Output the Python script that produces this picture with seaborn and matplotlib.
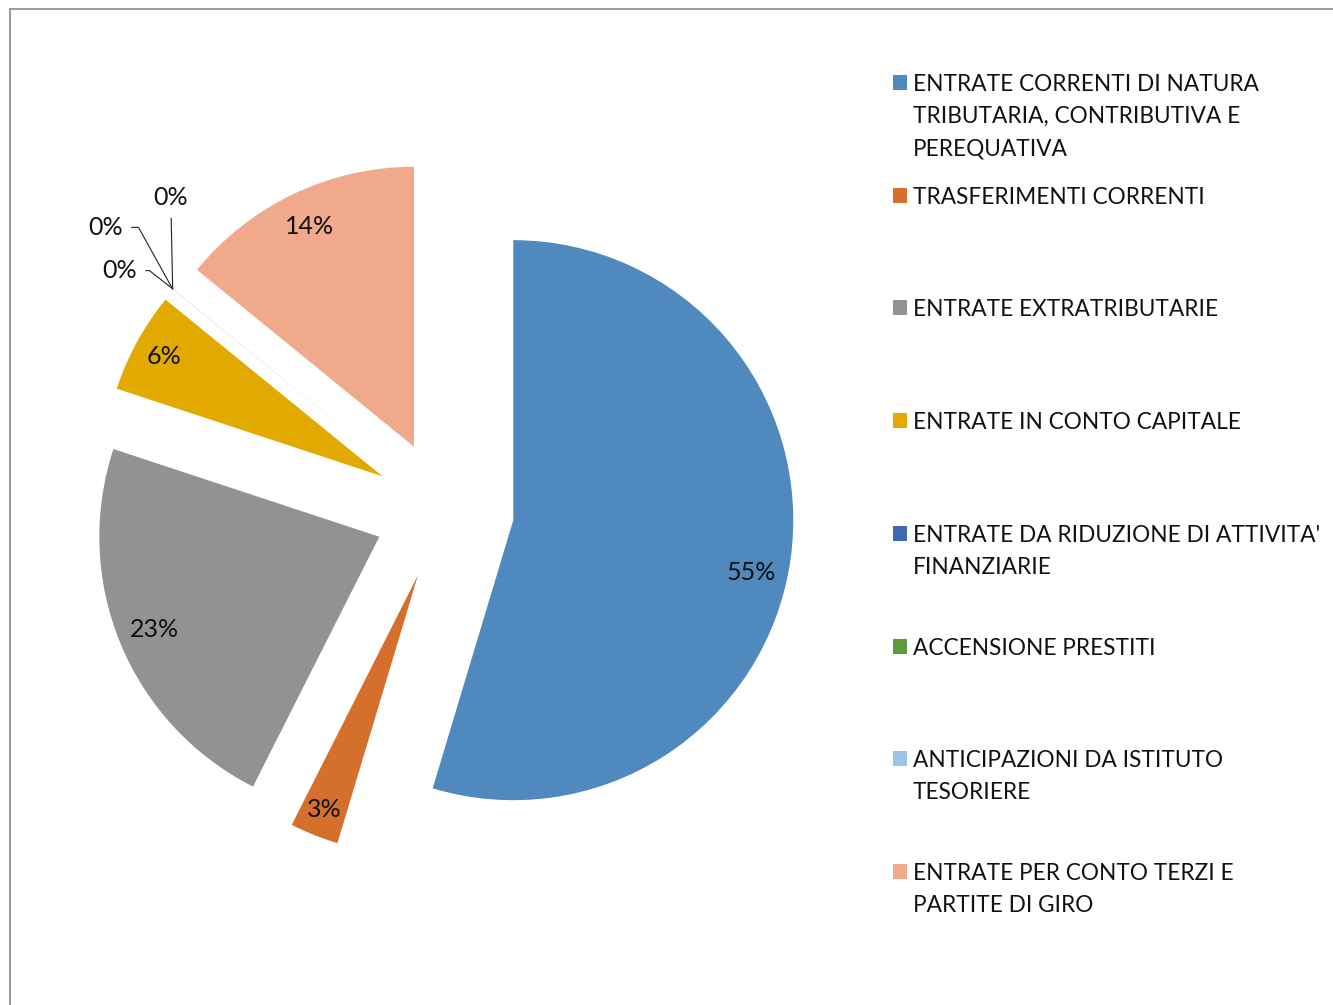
import numpy as np
import seaborn as sns
import matplotlib
matplotlib.use('Agg')
import matplotlib.pyplot as plt
from matplotlib.patches import Rectangle

categories = [
    "ENTRATE CORRENTI DI NATURA\nTRIBUTARIA, CONTRIBUTIVA E\nPEREQUATIVA",
    "TRASFERIMENTI CORRENTI",
    "ENTRATE EXTRATRIBUTARIE",
    "ENTRATE IN CONTO CAPITALE",
    "ENTRATE DA RIDUZIONE DI ATTIVITA'\nFINANZIARIE",
    "ACCENSIONE PRESTITI",
    "ANTICIPAZIONI DA ISTITUTO\nTESORIERE",
    "ENTRATE PER CONTO TERZI E\nPARTITE DI GIRO",
]
shares = [54.6, 2.8, 22.6, 5.8, 0.004, 0.004, 0.004, 14.1]
colors = ['#4F89BD', '#D5702C', '#929292', '#E2AA00',
          '#3F68B0', '#5E9A3C', '#9DC3E6', '#F0A98A']

sns.set_theme(style='white')
plt.rcParams['font.family'] = ['Lato', 'DejaVu Sans']

fig = plt.figure(figsize=(13.33, 10.05), dpi=100)
ax = fig.add_axes([0.0075, 0.0607, 0.6512, 0.8637])

wedges, _ = ax.pie(shares, colors=colors, startangle=90, counterclock=False,
                   explode=[0.25] * len(shares),
                   wedgeprops=dict(linewidth=0))
ax.set_xlim(-1.55, 1.55)
ax.set_ylim(-1.55, 1.55)
ax.set_aspect('equal')
ax.axis('off')

# percent labels (Excel-like placement, a few nudged)
pct_r = {0: 0.86, 1: 0.9, 3: 0.89}
pct_dy = {0: -0.06}
zero_offsets = [(-0.24, 0.22), (-0.007, 0.325), (-0.19, 0.065)]
zero_bend = [119, None, 142]
zi = 0
for i, (w, v) in enumerate(zip(wedges, shares)):
    mid = np.deg2rad((w.theta1 + w.theta2) / 2)
    cx, cy = w.center
    if round(v) > 0:
        r = pct_r.get(i, 0.87)
        ax.text(cx + r * np.cos(mid), cy + r * np.sin(mid) + pct_dy.get(i, 0),
                f"{round(v)}%", ha='center', va='center', fontsize=18,
                color='#111111')
    else:
        px, py = cx + np.cos(mid), cy + np.sin(mid)
        dx, dy = zero_offsets[zi]
        if zero_bend[zi] is None:
            cs = 'arc3'
        else:
            cs = f'angle,angleA=0,angleB={zero_bend[zi]},rad=0'
        ax.annotate(f"{round(v)}%", xy=(px, py), xytext=(px + dx, py + dy),
                    ha='center', va='center', fontsize=18, color='#111111',
                    arrowprops=dict(arrowstyle='-', color='#222222', lw=0.8,
                                    shrinkA=4, shrinkB=0, connectionstyle=cs))
        zi += 1

# legend
W, H = 1333, 1005
for i, (lab, col) in enumerate(zip(categories, colors)):
    y0 = 90 + i * 112.7
    fig.patches.append(Rectangle((893 / W, 1 - y0 / H), 14 / W, 15 / H,
                                 transform=fig.transFigure, color=col, lw=0))
    fig.text(913 / W, 1 - (y0 - 16) / H, lab, ha='left', va='top',
             fontsize=16.3, color='#111111', linespacing=1.65)

# outer border
fig.patches.append(Rectangle((10 / W, -0.1), 1.2, 1 - 9 / H + 0.1,
                             transform=fig.transFigure, fill=False,
                             edgecolor='#888888', lw=1.2))

fig.savefig('out.png', dpi=100)
